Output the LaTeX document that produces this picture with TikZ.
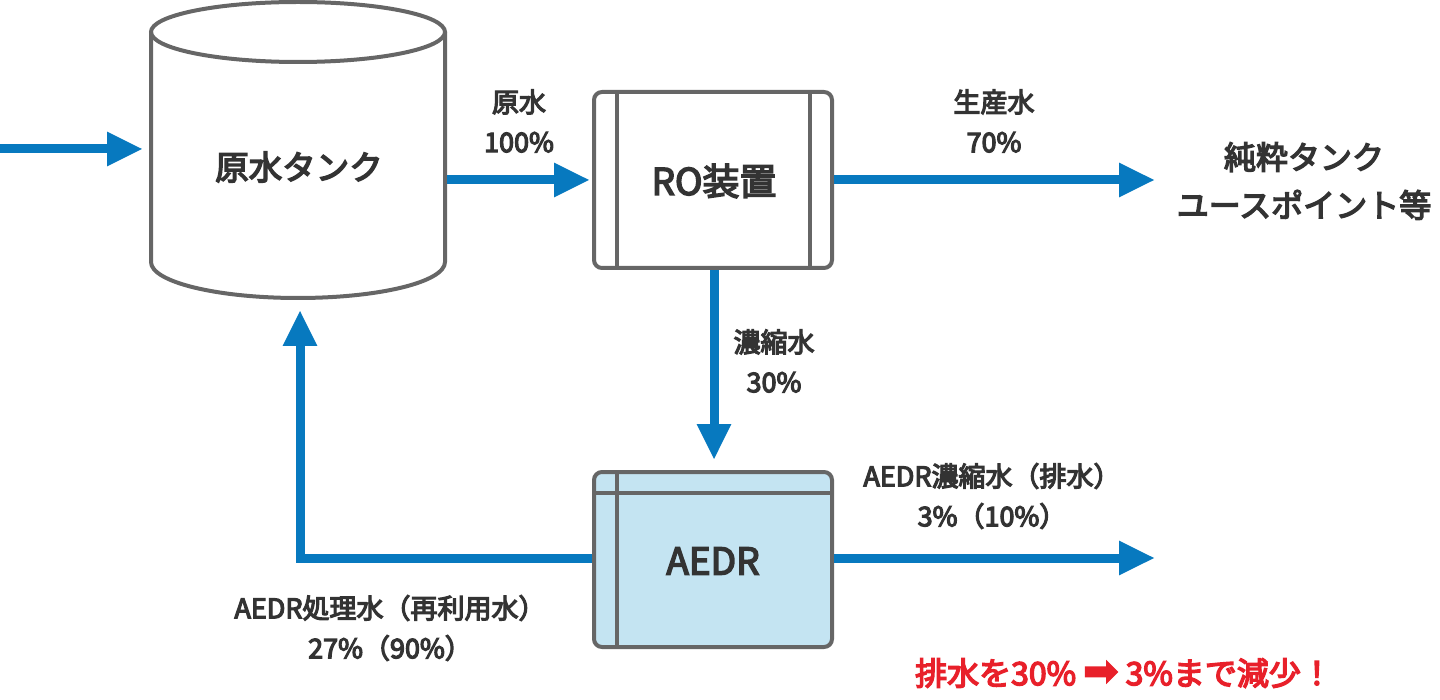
\documentclass[tikz,border=0pt]{standalone}
\usepackage{fontspec}
\setmainfont{Noto Sans CJK JP}
\newfontfamily\djv{DejaVu Sans}
\newcommand{\medwt}[1]{\special{pdf:literal direct 2 Tr #1 w}}
\usetikzlibrary{arrows.meta}
\definecolor{flowblue}{HTML}{0779BF}
\definecolor{boxgray}{HTML}{666666}
\definecolor{boxfill}{HTML}{C4E4F2}
\definecolor{txt}{HTML}{333333}
\definecolor{alert}{HTML}{E8202A}
\tikzset{
  flow/.style={draw=flowblue, line width=9pt, -{Triangle[length=36pt,width=32pt]}},
  unit/.style={draw=boxgray, line width=4pt, rounded corners=8pt},
  divider/.style={draw=boxgray, line width=4pt},
  lbl/.style={text=txt, font=\medwt{1.2}\fontsize{27}{40}\selectfont, align=center, inner sep=0pt},
  big/.style={text=txt, font=\medwt{1.5}\fontsize{37}{44}\selectfont, inner sep=0pt},
  dest/.style={text=txt, font=\medwt{1.4}\fontsize{32}{48}\selectfont, align=center, inner sep=0pt},
  note/.style={text=alert, font=\medwt{1.4}\fontsize{32}{36}\selectfont, inner sep=0pt}
}
\begin{document}
\begin{tikzpicture}[x=1pt,y=-1pt]
\useasboundingbox (0,0) rectangle (1440,700);
% tank
\draw[boxgray, line width=4pt] (298,32) ellipse [x radius=147, y radius=30];
\draw[boxgray, line width=4pt] (151,32) -- (151,262)
  .. controls (151,282) and (217,298) .. (298,298)
  .. controls (379,298) and (445,282) .. (445,262) -- (445,32);
\node[big, font=\medwt{1.5}\fontsize{33.5}{40}\selectfont] (tank) at (299,167) {原水タンク};
\coordinate (tankR) at (447,180);
\coordinate (tankB) at (300,310);
\coordinate (tankL) at (143,149);
\coordinate (src) at (0,149);
% RO
\draw[unit] (594,92) rectangle (832,268);
\draw[divider] (617,92) -- (617,268);
\draw[divider] (810,92) -- (810,268);
\node[big] (ro) at (714,181) {RO装置};
\coordinate (roL) at (590,180);
\coordinate (roR) at (834,180);
\coordinate (roB) at (714,270);
% AEDR
\draw[unit, fill=boxfill] (594,472) rectangle (832,647);
\draw[divider] (617,472) -- (617,647);
\draw[divider] (594,493) -- (832,493);
\node[big] (aedr) at (713,561) {AEDR};
\coordinate (aedrT) at (714,460);
\coordinate (aedrL) at (592,558);
\coordinate (aedrR) at (834,558);
\coordinate (corner) at (300,558);
\coordinate (prodEnd) at (1155,180);
\coordinate (drainEnd) at (1155,558);
% arrows
\draw[flow] (src) -- (tankL);
\draw[flow] (tankR) -- (roL);
\draw[flow] (roR) -- (prodEnd);
\draw[flow] (roB) -- (aedrT);
\draw[flow] (aedrR) -- (drainEnd);
\draw[flow] (aedrL) -- (corner) -- (tankB);
% labels
\node[lbl] (l1) at (519,121) {原水\\100\%};
\node[lbl] (l2) at (994,121) {生産水\\70\%};
\node[dest] (l3) at (1304,181) {純粋タンク\\ユースポイント等};
\node[lbl] (l4) at (774,361) {濃縮水\\30\%};
\node[lbl] (l5) at (992,496) {AEDR濃縮水（排水）\\3\%（10\%）};
\node[lbl] (l6) at (390,628) {AEDR処理水（再利用水）\\27\%（90\%）};
\node[note] (l7) at (1124,673) {排水を30\% {\djv\fontsize{42}{36}\selectfont ➡} 3\%まで減少！};
\end{tikzpicture}
\end{document}
